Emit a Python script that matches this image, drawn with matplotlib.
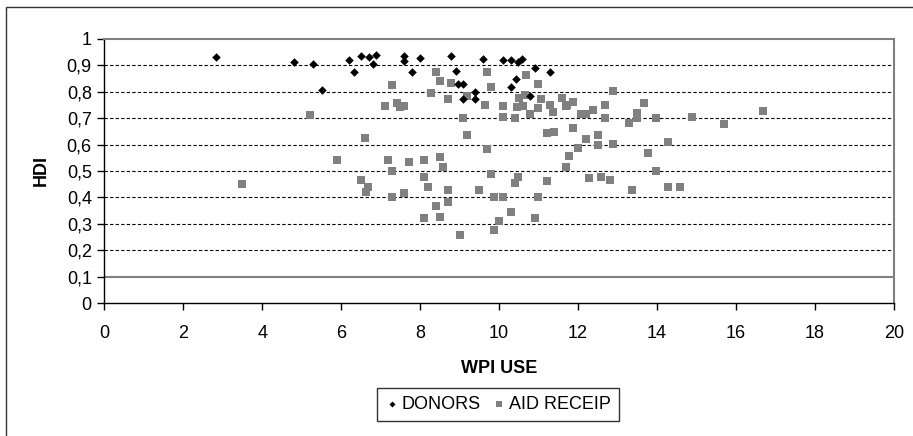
import matplotlib
matplotlib.use('Agg')
import matplotlib.pyplot as plt
from matplotlib.patches import Rectangle

plt.rcParams['font.family'] = ['Liberation Sans', 'DejaVu Sans']

# WPI use vs HDI, donors
donor_wpi = [2.82, 4.80, 5.29, 5.52, 6.20, 6.32, 6.50, 6.70, 6.81, 6.88,
             7.60, 7.60, 7.80, 7.99, 8.78, 8.90, 8.95, 9.09, 9.09, 9.39,
             9.39, 9.58, 10.09, 10.30, 10.49, 10.59, 10.42, 10.30, 10.79,
             10.91, 11.29]
donor_hdi = [0.931, 0.913, 0.907, 0.806, 0.922, 0.874, 0.936, 0.931, 0.907, 0.938,
             0.937, 0.918, 0.874, 0.928, 0.937, 0.879, 0.830, 0.830, 0.772, 0.800,
             0.773, 0.924, 0.919, 0.919, 0.914, 0.924, 0.847, 0.817, 0.784,
             0.891, 0.874]

# WPI use vs HDI, aid recipients
aid_wpi = [3.49, 5.20, 5.89, 6.50, 6.60, 6.63, 6.67, 7.10, 7.19, 7.28,
           7.28, 7.28, 7.41, 7.49, 7.59, 7.59, 7.72, 8.10, 8.10, 8.10,
           8.20, 8.27, 8.40, 8.40, 8.50, 8.50, 8.50, 8.57, 8.70, 8.70,
           8.71, 8.78, 9.01, 9.09, 9.18, 9.19, 9.48, 9.64, 9.69, 9.69,
           9.79, 9.79, 9.87, 9.87, 10.00, 10.09, 10.09, 10.10, 10.30, 10.39,
           10.40, 10.45, 10.48, 10.50, 10.60, 10.66, 10.67, 10.78, 10.90, 10.98,
           10.99, 10.99, 11.06, 11.21, 11.21, 11.29, 11.37, 11.38, 11.59, 11.69,
           11.69, 11.72, 11.77, 11.88, 11.88, 12.00, 12.07, 12.20, 12.20, 12.28,
           12.38, 12.51, 12.51, 12.58, 12.68, 12.68, 12.81, 12.89, 12.89, 13.28,
           13.37, 13.49, 13.49, 13.67, 13.76, 13.97, 13.97, 14.28, 14.28, 14.58,
           14.88, 15.70, 16.68]
aid_hdi = [0.452, 0.713, 0.543, 0.466, 0.626, 0.422, 0.441, 0.747, 0.543, 0.826,
           0.501, 0.403, 0.759, 0.741, 0.747, 0.418, 0.535, 0.543, 0.478, 0.323,
           0.441, 0.797, 0.876, 0.367, 0.842, 0.554, 0.327, 0.514, 0.428, 0.384,
           0.774, 0.832, 0.259, 0.702, 0.785, 0.638, 0.428, 0.750, 0.876, 0.582,
           0.818, 0.489, 0.403, 0.278, 0.312, 0.747, 0.706, 0.403, 0.346, 0.702,
           0.455, 0.742, 0.478, 0.777, 0.746, 0.788, 0.864, 0.715, 0.323, 0.828,
           0.740, 0.403, 0.772, 0.643, 0.463, 0.750, 0.725, 0.649, 0.775, 0.746,
           0.514, 0.750, 0.558, 0.760, 0.662, 0.588, 0.715, 0.715, 0.622, 0.475,
           0.730, 0.638, 0.600, 0.478, 0.751, 0.702, 0.467, 0.804, 0.603, 0.683,
           0.429, 0.718, 0.702, 0.759, 0.569, 0.702, 0.501, 0.611, 0.441, 0.441,
           0.706, 0.679, 0.728]

x_ticks = [0, 2, 4, 6, 8, 10, 12, 14, 16, 18, 20]
y_ticks = [0, 0.1, 0.2, 0.3, 0.4, 0.5, 0.6, 0.7, 0.8, 0.9, 1.0]
y_labels = ['0', '0,1', '0,2', '0,3', '0,4', '0,5', '0,6', '0,7', '0,8', '0,9', '1']

fig = plt.figure(figsize=(9.13, 4.36), dpi=100)
ax = fig.add_axes([0.1142, 0.305, 0.8650, 0.6056])

# outer chart frame (only top and left visible)
fig.patches.append(Rectangle((6 / 913, -0.1), 1.2, 1.1 - 7 / 436,
                             transform=fig.transFigure, fill=False,
                             edgecolor='#333333', linewidth=1.0, zorder=0))

for v in y_ticks[2:10]:
    ax.axhline(v, color='black', linestyle=(0, (3, 2)), linewidth=0.8, zorder=1)
ax.axhline(0.1, color='#808080', linewidth=1.5, zorder=1)

ax.scatter(donor_wpi, donor_hdi, marker='D', s=19, color='black',
           linewidths=0, label='DONORS', zorder=3)
ax.scatter(aid_wpi, aid_hdi, marker='s', s=33, color='#808080',
           linewidths=0, label='AID RECEIP', zorder=2)

ax.set_xlim(0, 20)
ax.set_ylim(0, 1)
ax.set_xticks(x_ticks)
ax.set_yticks(y_ticks)
ax.set_yticklabels(y_labels)
ax.tick_params(axis='both', labelsize=13, direction='out', length=5, width=1)
ax.tick_params(axis='x', pad=10.5)
ax.tick_params(axis='y', pad=4)

for side in ['top', 'right']:
    ax.spines[side].set_color('#808080')
    ax.spines[side].set_linewidth(1.5)
for side in ['left', 'bottom']:
    ax.spines[side].set_color('black')
    ax.spines[side].set_linewidth(1.0)

ax.set_xlabel('WPI USE', fontsize=13, fontweight='bold', labelpad=13)
ax.set_ylabel('HDI', fontsize=13, fontweight='bold', labelpad=12)

leg = fig.legend(loc='upper center', bbox_to_anchor=(0.5453, 0.110), ncol=2,
                 fontsize=13, frameon=True, fancybox=False, handletextpad=0.15,
                 columnspacing=0.6, borderpad=0.45, handlelength=0.8,
                 markerscale=0.7, borderaxespad=0)
leg.get_frame().set_edgecolor('black')
leg.get_frame().set_linewidth(1.0)

fig.savefig('out.png', dpi=100)
